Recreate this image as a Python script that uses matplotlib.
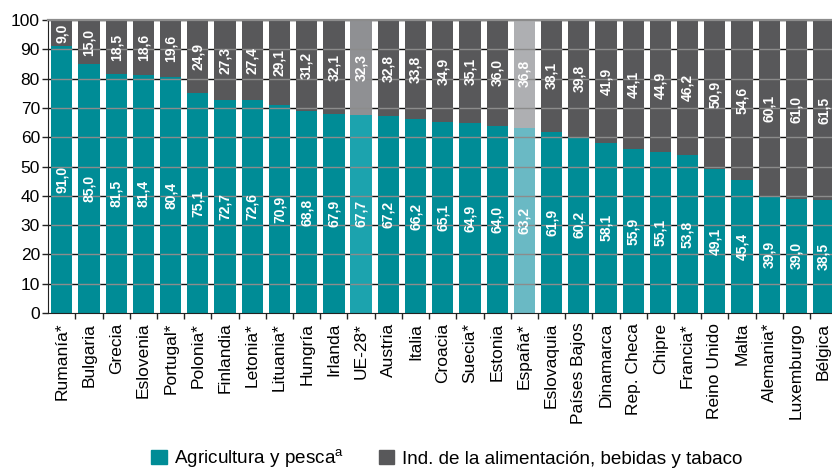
import matplotlib
matplotlib.use("Agg")
import matplotlib.pyplot as plt
from matplotlib.patches import Patch
import numpy as np

plt.rcParams['font.family'] = ['Liberation Sans', 'DejaVu Sans']
plt.rcParams['mathtext.fontset'] = 'custom'
plt.rcParams['mathtext.rm'] = 'Liberation Sans'

countries = ["Rumanía*", "Bulgaria", "Grecia", "Eslovenia", "Portugal*", "Polonia*",
             "Finlandia", "Letonia*", "Lituania*", "Hungría", "Irlanda", "UE-28*",
             "Austria", "Italia", "Croacia", "Suecia*", "Estonia", "España*",
             "Eslovaquia", "Países Bajos", "Dinamarca", "Rep. Checa", "Chipre",
             "Francia*", "Reino Unido", "Malta", "Alemania*", "Luxemburgo", "Bélgica"]
agricultura = [91.0, 85.0, 81.5, 81.4, 80.4, 75.1, 72.7, 72.6, 70.9, 68.8, 67.9, 67.7,
               67.2, 66.2, 65.1, 64.9, 64.0, 63.2, 61.9, 60.2, 58.1, 55.9, 55.1,
               53.8, 49.1, 45.4, 39.9, 39.0, 38.5]
industria = [9.0, 15.0, 18.5, 18.6, 19.6, 24.9, 27.3, 27.4, 29.1, 31.2, 32.1, 32.3,
             32.8, 33.8, 34.9, 35.1, 36.0, 36.8, 38.1, 39.8, 41.9, 44.1, 44.9,
             46.2, 50.9, 54.6, 60.1, 61.0, 61.5]
yticks = list(range(0, 101, 10))

TEAL, GREY = "#008c96", "#58585a"
highlight = {"UE-28*": ("#1ca3ae", "#8f9093"), "España*": ("#6ab9c4", "#aeafb2")}

fig = plt.figure(figsize=(8.32, 4.70), dpi=100)
ax = fig.add_axes([0.058, 0.334, 0.942, 0.6234])

x = np.arange(len(countries))
c_low = [highlight.get(c, (TEAL, GREY))[0] for c in countries]
c_high = [highlight.get(c, (TEAL, GREY))[1] for c in countries]
w = 0.78

# black grid in the gaps, drawn behind the bars
for yv in yticks[1:]:
    ax.axhline(yv, color="#111111", lw=1.0, zorder=0)

b1 = ax.bar(x, agricultura, width=w, color=c_low, zorder=2, linewidth=0)
b2 = ax.bar(x, industria, width=w, bottom=agricultura, color=c_high, zorder=2, linewidth=0)

# lighter grid lines across each bar
for p in b1:
    for yv in yticks[1:-1]:
        ax.hlines(yv, p.get_x(), p.get_x() + p.get_width(), color="#8c8c8c",
                  lw=1.0, zorder=3)

def fmt(v):
    return f"{v:.1f}".replace(".", ",")

for xi, a, i in zip(x, agricultura, industria):
    ax.text(xi, a / 2, fmt(a), rotation=90, ha="center", va="center",
            color="white", fontsize=10, fontweight="bold", zorder=4)
    ax.text(xi, a + i / 2, fmt(i), rotation=90, ha="center", va="center",
            color="white", fontsize=10, fontweight="bold", zorder=4)

ax.set_ylim(0, 100)
ax.set_xlim(-0.5, 28.31)
ax.set_yticks(yticks)
ax.tick_params(axis="y", labelsize=12.5, length=4, width=1, color="#222222", pad=2)
ax.set_xticks(x)
ax.set_xticklabels(countries, rotation=90, fontsize=12.5)
ax.tick_params(axis="x", length=0, pad=7)
ax.set_xticks(x[:-1] + 0.5, minor=True)
ax.tick_params(axis="x", which="minor", length=4, width=1, color="#222222")

ax.spines["right"].set_visible(False)
ax.spines["top"].set_color("#8c8c8c")
ax.spines["top"].set_linewidth(1.6)
ax.spines["left"].set_color("#222222")
ax.spines["bottom"].set_color("#222222")
ax.spines["top"].set_zorder(5)

handles = [Patch(color=TEAL), Patch(color=GREY)]
labels = ["Agricultura y pesca$^{\\mathrm{a}}$", "Ind. de la alimentación, bebidas y tabaco"]
fig.legend(handles, labels, loc="center", bbox_to_anchor=(0.537, 0.025), ncol=2,
           frameon=False, fontsize=13.6, handlelength=0.8, handleheight=0.8,
           handletextpad=0.4, columnspacing=1.85, borderpad=0, borderaxespad=0)

fig.savefig("out.png", dpi=100)
